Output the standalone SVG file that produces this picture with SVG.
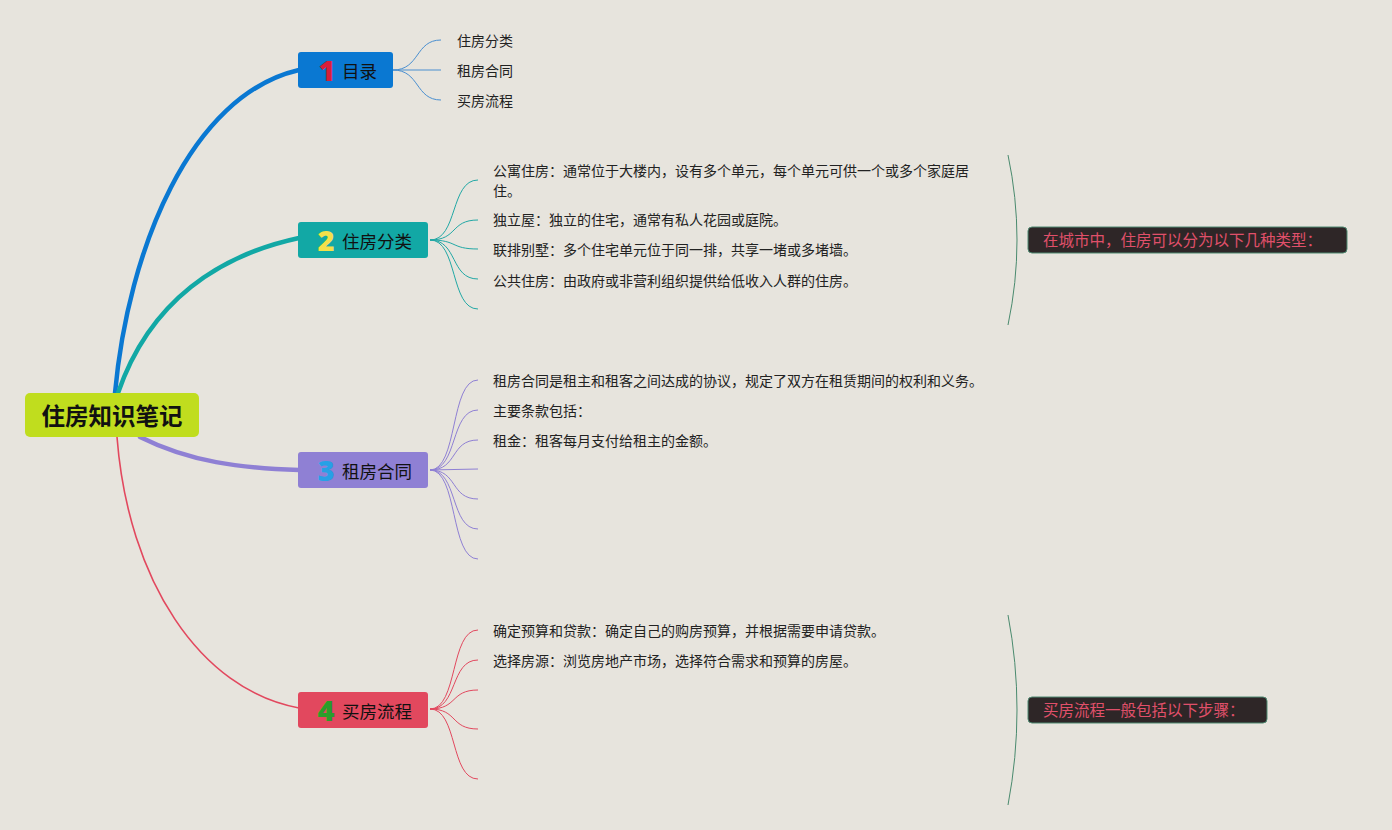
<svg xmlns="http://www.w3.org/2000/svg" width="1392" height="830" viewBox="0 0 1392 830">
<style>
text{font-family:"Noto Sans CJK SC","Noto Sans",sans-serif;}
.sub{font-size:14px;fill:#222;dominant-baseline:central;}
.lbl{font-size:17.5px;fill:#111;dominant-baseline:central;}
.num{font-family:"Open Sans","Noto Sans",sans-serif;font-weight:800;font-size:29px;dominant-baseline:central;}
.sum{font-size:15.5px;fill:#e0506a;dominant-baseline:central;}
.sumbox{fill:#2e2627;stroke:#4f8a72;stroke-width:1;}
.thin{fill:none;stroke-width:1;}
.main{fill:none;stroke-width:4.5;stroke-linecap:round;}
.brace{fill:none;stroke:#4a8a6e;stroke-width:1;}
</style>
<rect width="1392" height="830" fill="#e7e4dd"/>
<g id="connectors">
<path class="main" stroke="#0a78d2" d="M115,393 C128,250 190,95 299,70"/>
<path class="main" stroke="#12a8a5" d="M118,393 C150,300 220,255 299,238"/>
<path class="main" stroke="#8f80d4" d="M140,437 C190,462 240,468 299,470"/>
<path fill="none" stroke="#e2485e" stroke-width="1.6" d="M117,437 C128,580 200,690 299,708"/>
<g stroke="#4a8fd0" class="thin">
<path d="M393,70 C420,70 415,40 441,40"/>
<path d="M393,70 L441,70"/>
<path d="M393,70 C420,70 415,100 441,100"/>
</g>
<g stroke="#22a8a5" class="thin">
<path d="M430,240 C458,240 450,180 478,180"/>
<path d="M430,240 C458,240 450,220 478,220"/>
<path d="M430,240 C458,240 450,249 478,249"/>
<path d="M430,240 C458,240 450,279 478,279"/>
<path d="M430,240 C458,240 450,309 478,309"/>
</g>
<g stroke="#8f80d4" class="thin">
<path d="M430,470 C458,470 450,380 478,380"/>
<path d="M430,470 C458,470 450,410 478,410"/>
<path d="M430,470 C458,470 450,440 478,440"/>
<path d="M430,470 L478,469"/>
<path d="M430,470 C458,470 450,499 478,499"/>
<path d="M430,470 C458,470 450,529 478,529"/>
<path d="M430,470 C458,470 450,559 478,559"/>
</g>
<g stroke="#e2485e" class="thin">
<path d="M430,709 C458,709 450,630 478,630"/>
<path d="M430,709 C458,709 450,660 478,660"/>
<path d="M430,709 C458,709 450,690 478,690"/>
<path d="M430,709 C458,709 450,729 478,729"/>
<path d="M430,709 C458,709 450,779 478,779"/>
</g>
<path class="brace" d="M1008,155 Q1026,240 1008,325"/>
<path class="brace" d="M1008,615 Q1026,710 1008,805"/>
</g>
<g id="root">
<rect x="25" y="393" width="174" height="44" rx="5" fill="#c0dd1e"/>
<text x="112" y="415" text-anchor="middle" font-size="23.5" font-weight="700" fill="#111" dominant-baseline="central">住房知识笔记</text>
</g>
<g id="b1">
<rect x="298" y="52" width="95" height="36" rx="3" fill="#0a78d2"/>
<text class="num" x="327" y="69" text-anchor="middle" fill="#d81e3a">1</text>
<text class="lbl" x="342" y="70">目录</text>
</g>
<g id="b2">
<rect x="298" y="222" width="130" height="36" rx="3" fill="#12a8a5"/>
<text class="num" x="326" y="239" text-anchor="middle" fill="#f3e04a">2</text>
<text class="lbl" x="342" y="240">住房分类</text>
</g>
<g id="b3">
<rect x="298" y="452" width="130" height="36" rx="3" fill="#8f80d4"/>
<text class="num" x="326" y="469" text-anchor="middle" fill="#27a0e6">3</text>
<text class="lbl" x="342" y="470">租房合同</text>
</g>
<g id="b4">
<rect x="298" y="692" width="130" height="36" rx="3" fill="#e2485e"/>
<text class="num" x="326" y="709" text-anchor="middle" fill="#2a9e2a">4</text>
<text class="lbl" x="342" y="710">买房流程</text>
</g>
<g id="b1-subs">
<text class="sub" x="457" y="40">住房分类</text>
<text class="sub" x="457" y="70">租房合同</text>
<text class="sub" x="457" y="100">买房流程</text>
</g>
<g id="b2-subs">
<text class="sub" x="493" y="170">公寓住房：通常位于大楼内，设有多个单元，每个单元可供一个或多个家庭居</text>
<text class="sub" x="493" y="190">住。</text>
<text class="sub" x="493" y="219">独立屋：独立的住宅，通常有私人花园或庭院。</text>
<text class="sub" x="493" y="249">联排别墅：多个住宅单元位于同一排，共享一堵或多堵墙。</text>
<text class="sub" x="493" y="280">公共住房：由政府或非营利组织提供给低收入人群的住房。</text>
</g>
<g id="b3-subs">
<text class="sub" x="493" y="380">租房合同是租主和租客之间达成的协议，规定了双方在租赁期间的权利和义务。</text>
<text class="sub" x="493" y="410">主要条款包括：</text>
<text class="sub" x="493" y="440">租金：租客每月支付给租主的金额。</text>
</g>
<g id="b4-subs">
<text class="sub" x="493" y="630">确定预算和贷款：确定自己的购房预算，并根据需要申请贷款。</text>
<text class="sub" x="493" y="660">选择房源：浏览房地产市场，选择符合需求和预算的房屋。</text>
</g>
<g id="summary-2">
<rect class="sumbox" x="1028" y="227" width="319" height="26" rx="4"/>
<text class="sum" x="1043" y="239">在城市中，住房可以分为以下几种类型：</text>
</g>
<g id="summary-4">
<rect class="sumbox" x="1028" y="697" width="239" height="26" rx="4"/>
<text class="sum" x="1043" y="709">买房流程一般包括以下步骤：</text>
</g>
</svg>
